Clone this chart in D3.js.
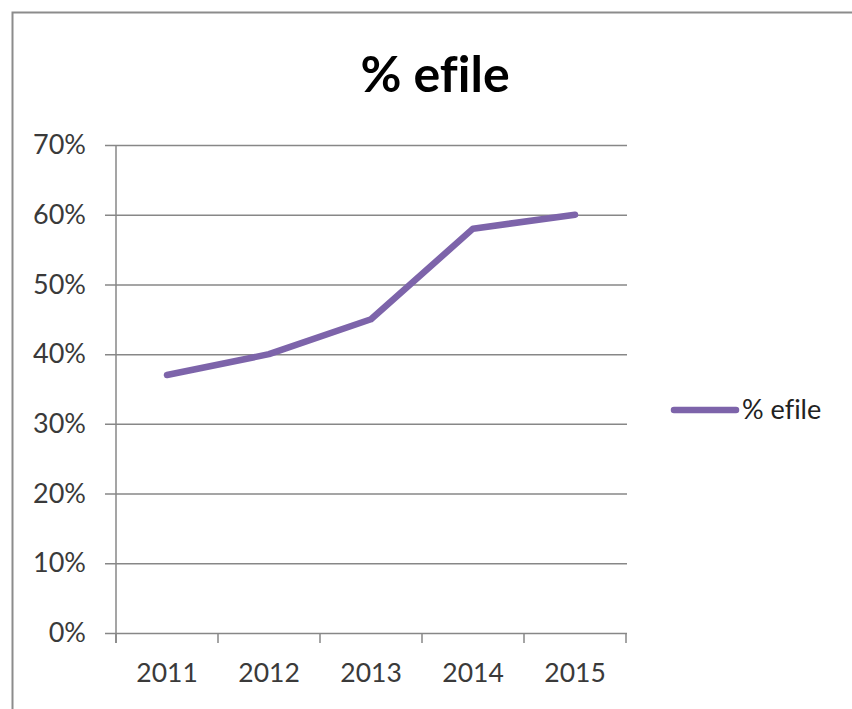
<!DOCTYPE html>
<html>
<head>
<meta charset="utf-8">
<script src="https://cdn.jsdelivr.net/npm/d3@7"></script>
<style>
  body { margin: 0; background: #fff; }
  text { font-family: Lato, "Open Sans", sans-serif; font-variant-ligatures: none; }
</style>
</head>
<body>
<script>
  // chart data
  const years = ["2011", "2012", "2013", "2014", "2015"];
  const efile = [0.37, 0.40, 0.45, 0.58, 0.60];
  const yTicks = [0, 0.1, 0.2, 0.3, 0.4, 0.5, 0.6, 0.7];
  const seriesName = "% efile";

  const W = 852, H = 709;
  const plot = { left: 116, right: 626, top: 145, bottom: 633 };

  const svg = d3.select("body").append("svg")
    .attr("width", W)
    .attr("height", H);

  // outer frame (only top and left visible in the crop)
  svg.append("rect")
    .attr("x", 12.5).attr("y", 12.5)
    .attr("width", W + 20).attr("height", H + 20)
    .attr("fill", "none")
    .attr("stroke", "#8c8c8c")
    .attr("stroke-width", 2);

  svg.append("text")
    .attr("x", 435).attr("y", 92)
    .attr("text-anchor", "middle")
    .style("font-size", "50px")
    .style("font-weight", "bold")
    .style("fill", "#000")
    .text(seriesName);

  const x = d3.scaleBand()
    .domain(years)
    .range([plot.left, plot.right])
    .padding(0);

  const y = d3.scaleLinear()
    .domain([0, 0.7])
    .range([plot.bottom, plot.top]);

  // gridlines + y labels
  const yAxis = svg.append("g")
    .attr("transform", "translate(" + (plot.left - 11) + ",0)")
    .call(d3.axisLeft(y)
      .tickValues(yTicks)
      .tickFormat(d3.format(".0%"))
      .tickSize(-(plot.right + 1 - plot.left + 11))
      .tickPadding(19));
  yAxis.select(".domain").remove();
  yAxis.selectAll(".tick line").attr("stroke", "#878787").attr("stroke-width", 1.5);
  yAxis.selectAll(".tick text")
    .style("font-size", "27px")
    .style("fill", "#3a3a3a");

  // vertical axis line
  svg.append("line")
    .attr("x1", plot.left).attr("x2", plot.left)
    .attr("y1", y(0.7)).attr("y2", y(0) + 10)
    .attr("stroke", "#878787").attr("stroke-width", 1.5);

  // x labels
  const xAxis = svg.append("g")
    .attr("transform", "translate(0," + plot.bottom + ")")
    .call(d3.axisBottom(x).tickSize(0).tickPadding(30));
  xAxis.select(".domain").remove();
  xAxis.selectAll(".tick text")
    .style("font-size", "26.5px")
    .style("fill", "#3a3a3a");

  // x ticks at category boundaries
  const bounds = years.map((d) => x(d)).concat([x(years[years.length - 1]) + x.bandwidth()]);
  svg.append("g").selectAll("line")
    .data(bounds)
    .join("line")
    .attr("x1", (d) => d).attr("x2", (d) => d)
    .attr("y1", plot.bottom).attr("y2", plot.bottom + 10)
    .attr("stroke", "#878787").attr("stroke-width", 1.5);

  // series line
  svg.append("path")
    .datum(efile)
    .attr("fill", "none")
    .attr("stroke", "#7d64aa")
    .attr("stroke-width", 6.5)
    .attr("stroke-linejoin", "round")
    .attr("stroke-linecap", "round")
    .attr("d", d3.line()
      .x((d, i) => x(years[i]) + x.bandwidth() / 2)
      .y((d) => y(d)));

  // legend
  const legend = svg.append("g").attr("transform", "translate(672,410)");
  legend.append("line")
    .attr("x1", 2).attr("x2", 64)
    .attr("stroke", "#7d64aa")
    .attr("stroke-width", 6.5)
    .attr("stroke-linecap", "round");
  legend.append("text")
    .attr("x", 70).attr("y", 9)
    .style("font-size", "27px")
    .style("fill", "#222")
    .text(seriesName);
</script>
</body>
</html>
